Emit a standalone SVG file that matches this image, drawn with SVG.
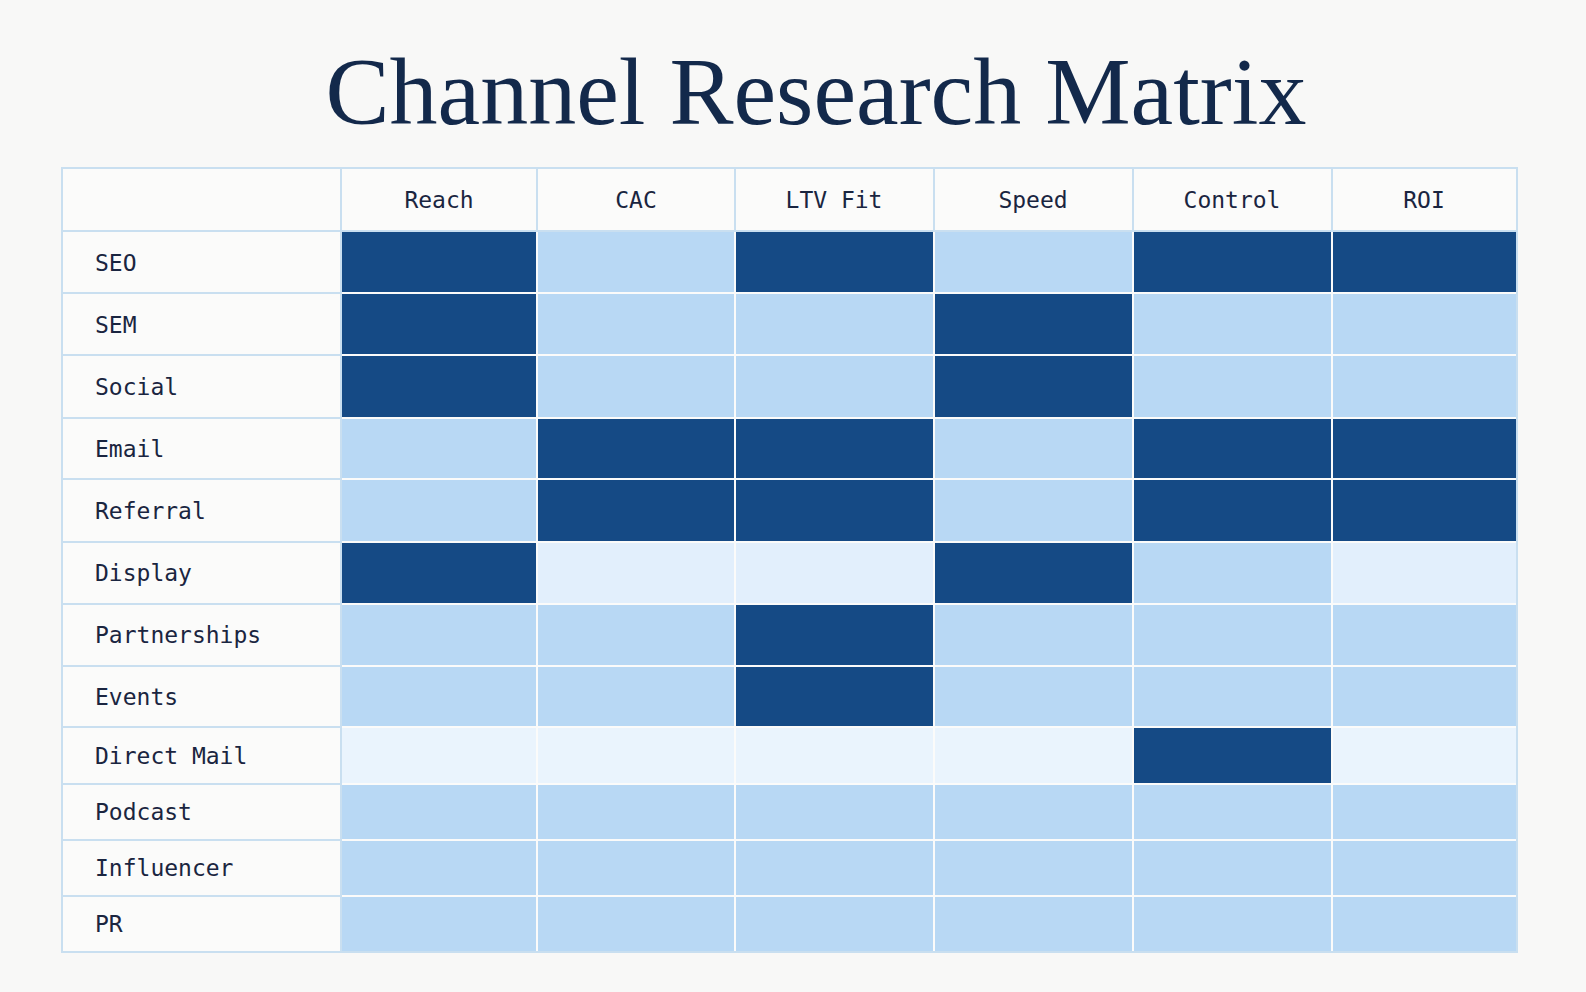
<svg xmlns="http://www.w3.org/2000/svg" width="1586" height="992" viewBox="0 0 1586 992">
<style>
.t{font-family:"Liberation Serif","DejaVu Serif",serif;font-size:96px;fill:#13294b}
.h{font-family:"DejaVu Sans Mono","Liberation Mono",monospace;font-size:23px;fill:#1a2540;text-anchor:middle}
.r{font-family:"DejaVu Sans Mono","Liberation Mono",monospace;font-size:23px;fill:#1a2540}
.D{fill:#154a85}.L{fill:#b8d8f4}.V{fill:#e2effc}.W{fill:#eaf4fd}
.g{stroke:#c9dff0;stroke-width:2;fill:none}
</style>
<rect width="1586" height="992" fill="#f8f8f7"/>
<text class="t" x="816" y="124" text-anchor="middle">Channel Research Matrix</text>
<g id="table">
<rect x="62" y="168" width="1455" height="784" fill="#fbfbfa"/>
<g id="grid" class="g">
<rect x="62" y="168" width="1455" height="784"/>
<path d="M341 168V952M537 168V231M735 168V231M934 168V231M1133 168V231M1332 168V231M62 231H1517M62 293H341M62 355H341M62 418H341M62 479H341M62 542H341M62 604H341M62 666H341M62 727H341M62 784H341M62 840H341M62 896H341"/>
</g>
<g id="headers">
<text class="h" x="439" y="208">Reach</text>
<text class="h" x="636" y="208">CAC</text>
<text class="h" x="834" y="208">LTV Fit</text>
<text class="h" x="1033" y="208">Speed</text>
<text class="h" x="1232" y="208">Control</text>
<text class="h" x="1424" y="208">ROI</text>
</g>
<g id="rows">
<text class="r" x="95" y="271">SEO</text>
<text class="r" x="95" y="333">SEM</text>
<text class="r" x="95" y="395">Social</text>
<text class="r" x="95" y="457">Email</text>
<text class="r" x="95" y="519">Referral</text>
<text class="r" x="95" y="581">Display</text>
<text class="r" x="95" y="643">Partnerships</text>
<text class="r" x="95" y="705">Events</text>
<text class="r" x="95" y="764">Direct Mail</text>
<text class="r" x="95" y="820">Podcast</text>
<text class="r" x="95" y="876">Influencer</text>
<text class="r" x="95" y="932">PR</text>
</g>
<g id="cells">
<!-- SEO -->
<rect class="D" x="342" y="232" width="194" height="60"/><rect class="L" x="538" y="232" width="196" height="60"/><rect class="D" x="736" y="232" width="197" height="60"/><rect class="L" x="935" y="232" width="197" height="60"/><rect class="D" x="1134" y="232" width="197" height="60"/><rect class="D" x="1333" y="232" width="183" height="60"/>
<!-- SEM -->
<rect class="D" x="342" y="294" width="194" height="60"/><rect class="L" x="538" y="294" width="196" height="60"/><rect class="L" x="736" y="294" width="197" height="60"/><rect class="D" x="935" y="294" width="197" height="60"/><rect class="L" x="1134" y="294" width="197" height="60"/><rect class="L" x="1333" y="294" width="183" height="60"/>
<!-- Social -->
<rect class="D" x="342" y="356" width="194" height="61"/><rect class="L" x="538" y="356" width="196" height="61"/><rect class="L" x="736" y="356" width="197" height="61"/><rect class="D" x="935" y="356" width="197" height="61"/><rect class="L" x="1134" y="356" width="197" height="61"/><rect class="L" x="1333" y="356" width="183" height="61"/>
<!-- Email -->
<rect class="L" x="342" y="419" width="194" height="59"/><rect class="D" x="538" y="419" width="196" height="59"/><rect class="D" x="736" y="419" width="197" height="59"/><rect class="L" x="935" y="419" width="197" height="59"/><rect class="D" x="1134" y="419" width="197" height="59"/><rect class="D" x="1333" y="419" width="183" height="59"/>
<!-- Referral -->
<rect class="L" x="342" y="480" width="194" height="61"/><rect class="D" x="538" y="480" width="196" height="61"/><rect class="D" x="736" y="480" width="197" height="61"/><rect class="L" x="935" y="480" width="197" height="61"/><rect class="D" x="1134" y="480" width="197" height="61"/><rect class="D" x="1333" y="480" width="183" height="61"/>
<!-- Display -->
<rect class="D" x="342" y="543" width="194" height="60"/><rect class="V" x="538" y="543" width="196" height="60"/><rect class="V" x="736" y="543" width="197" height="60"/><rect class="D" x="935" y="543" width="197" height="60"/><rect class="L" x="1134" y="543" width="197" height="60"/><rect class="V" x="1333" y="543" width="183" height="60"/>
<!-- Partnerships -->
<rect class="L" x="342" y="605" width="194" height="60"/><rect class="L" x="538" y="605" width="196" height="60"/><rect class="D" x="736" y="605" width="197" height="60"/><rect class="L" x="935" y="605" width="197" height="60"/><rect class="L" x="1134" y="605" width="197" height="60"/><rect class="L" x="1333" y="605" width="183" height="60"/>
<!-- Events -->
<rect class="L" x="342" y="667" width="194" height="59"/><rect class="L" x="538" y="667" width="196" height="59"/><rect class="D" x="736" y="667" width="197" height="59"/><rect class="L" x="935" y="667" width="197" height="59"/><rect class="L" x="1134" y="667" width="197" height="59"/><rect class="L" x="1333" y="667" width="183" height="59"/>
<!-- Direct Mail -->
<rect class="W" x="342" y="728" width="194" height="55"/><rect class="W" x="538" y="728" width="196" height="55"/><rect class="W" x="736" y="728" width="197" height="55"/><rect class="W" x="935" y="728" width="197" height="55"/><rect class="D" x="1134" y="728" width="197" height="55"/><rect class="W" x="1333" y="728" width="183" height="55"/>
<!-- Podcast -->
<rect class="L" x="342" y="785" width="194" height="54"/><rect class="L" x="538" y="785" width="196" height="54"/><rect class="L" x="736" y="785" width="197" height="54"/><rect class="L" x="935" y="785" width="197" height="54"/><rect class="L" x="1134" y="785" width="197" height="54"/><rect class="L" x="1333" y="785" width="183" height="54"/>
<!-- Influencer -->
<rect class="L" x="342" y="841" width="194" height="54"/><rect class="L" x="538" y="841" width="196" height="54"/><rect class="L" x="736" y="841" width="197" height="54"/><rect class="L" x="935" y="841" width="197" height="54"/><rect class="L" x="1134" y="841" width="197" height="54"/><rect class="L" x="1333" y="841" width="183" height="54"/>
<!-- PR -->
<rect class="L" x="342" y="897" width="194" height="54"/><rect class="L" x="538" y="897" width="196" height="54"/><rect class="L" x="736" y="897" width="197" height="54"/><rect class="L" x="935" y="897" width="197" height="54"/><rect class="L" x="1134" y="897" width="197" height="54"/><rect class="L" x="1333" y="897" width="183" height="54"/>
</g>
</g>
</svg>
